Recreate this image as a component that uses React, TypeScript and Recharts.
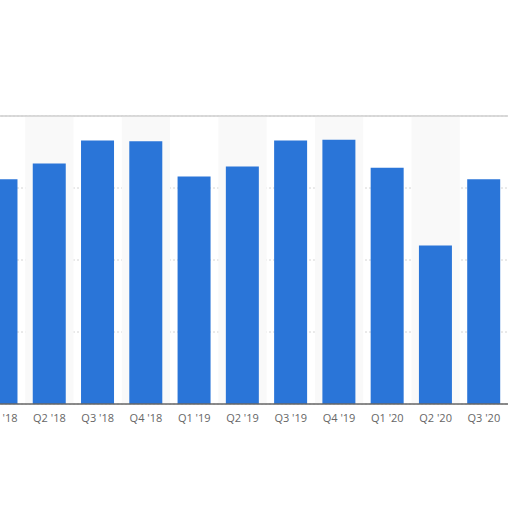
import { BarChart, Bar, XAxis, YAxis, CartesianGrid, ReferenceArea, ReferenceLine } from "recharts";

const quarters = ["Q1 '18", "Q2 '18", "Q3 '18", "Q4 '18", "Q1 '19", "Q2 '19", "Q3 '19", "Q4 '19", "Q1 '20", "Q2 '20", "Q3 '20"];
const values = [3.12, 3.34, 3.66, 3.65, 3.16, 3.3, 3.66, 3.67, 3.28, 2.2, 3.12];
const yTicks = [0, 1, 2, 3, 4];

const data = quarters.map((q, i) => ({ quarter: q, value: values[i] }));

export default function App() {
  return (
    <div style={{ position: "absolute", left: 0, top: 0, width: 512, height: 512, overflow: "hidden", background: "#fff" }}>
      <div style={{ position: "absolute", left: -23, top: 106 }}>
        <BarChart
          width={531}
          height={340}
          data={data}
          margin={{ top: 10, right: 0, left: 0, bottom: 0 }}
          barCategoryGap="15.5%"
        >
          {quarters.map((q, i) =>
            i % 2 === 1 ? (
              <ReferenceArea key={q} x1={q} x2={q} y1={0} y2={4} fill="#f9f9f9" fillOpacity={1} stroke="none" ifOverflow="extendDomain" />
            ) : null
          )}
          <CartesianGrid vertical={false} stroke="#d4d4d4" strokeDasharray="2 2" />
          <ReferenceLine y={4} stroke="#cfcfcf" strokeWidth={1.5} />
          <XAxis
            dataKey="quarter"
            height={42}
            tickLine={false}
            tickSize={8}
            axisLine={{ stroke: "#666", strokeWidth: 1.5 }}
            tick={{ fill: "#666", fontSize: 11, fontFamily: "Open Sans" }}
            interval={0}
          />
          <YAxis hide domain={[0, 4]} ticks={yTicks} />
          <Bar dataKey="value" fill="#2a75d8" isAnimationActive={false} />
        </BarChart>
      </div>
    </div>
  );
}
